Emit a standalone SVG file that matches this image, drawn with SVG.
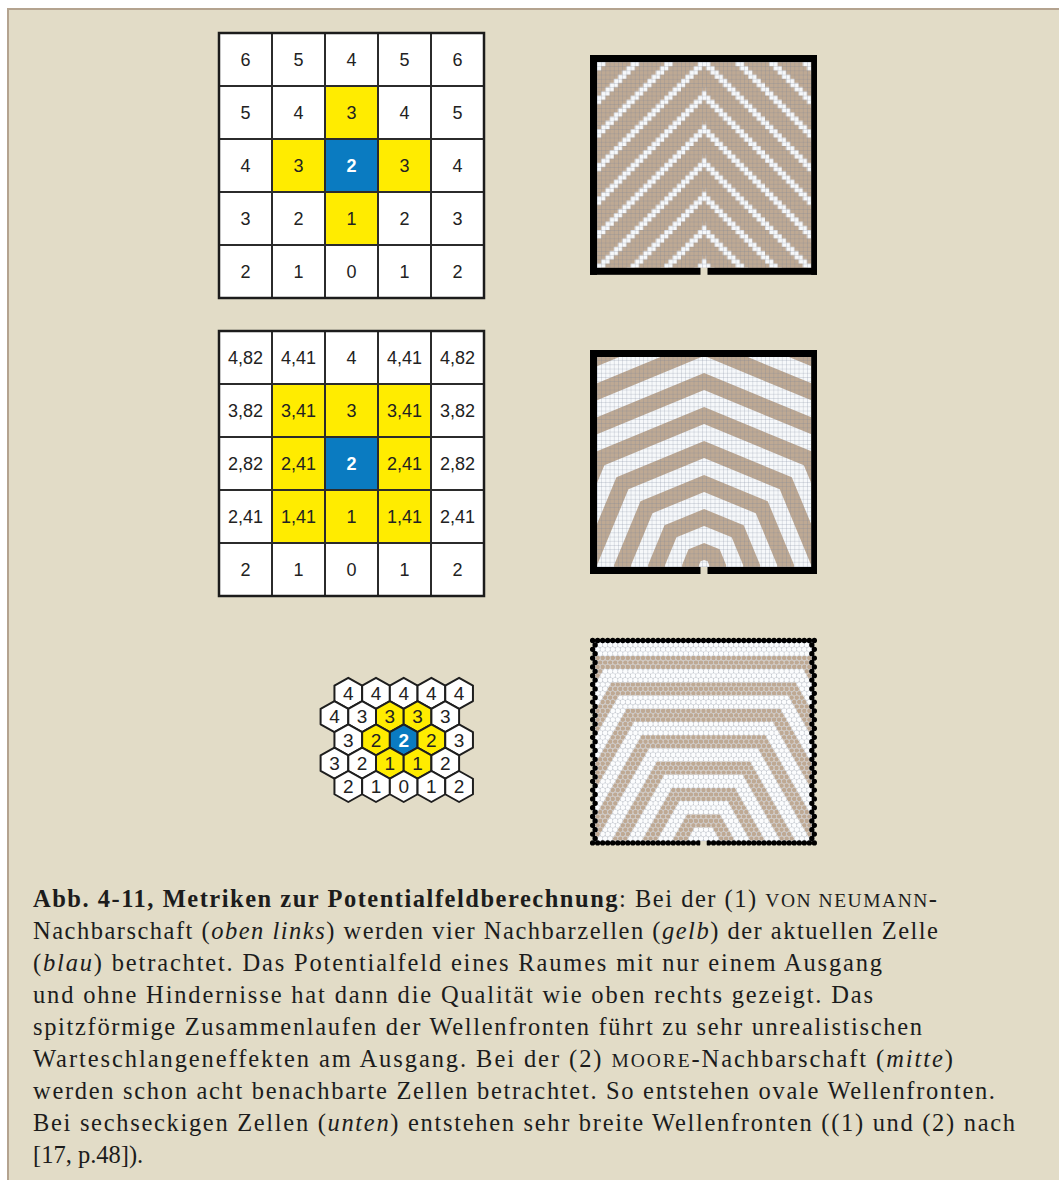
<svg xmlns="http://www.w3.org/2000/svg" xmlns:xlink="http://www.w3.org/1999/xlink" width="1059" height="1180" viewBox="0 0 1059 1180">
<style>
.ln{stroke:#2b2b2b;stroke-width:2;fill:none}
.bd{stroke:#1c1c1c;stroke-width:2.5;fill:none}
.num{font-family:"Liberation Sans",Arial,sans-serif;font-size:18px;fill:#222;text-anchor:middle}
.bnum{font-weight:bold;fill:#fff}
.hnum{font-size:19px}
.hx{stroke:#1e1e1e;stroke-width:2;stroke-linejoin:round}
.hw{fill:#fff}.hy{fill:#ffec00}.hb{fill:#0a7bc1}
.cw{fill:#fff}.cy{fill:#ffec00}.cb{fill:#0a7bc1}
.tan{fill:#bea994}
.wal{fill:#000}
.cap{font-family:"Liberation Serif","Times New Roman",serif;font-size:24.5px;fill:#1c1c1c}
.b{font-weight:bold}
.i{font-style:italic}
.sc{font-size:19.5px}
.dotw{fill:none;stroke:#fbfcfd;stroke-width:4.7;stroke-linecap:round;stroke-dasharray:0 5.04}
.dott{fill:none;stroke:#bea994;stroke-width:4.7;stroke-linecap:round;stroke-dasharray:0 5.04}
.wallh{fill:none;stroke:#000;stroke-width:5.3;stroke-linecap:round;stroke-dasharray:0 5.04}
.wallv{fill:none;stroke:#000;stroke-width:5.3;stroke-linecap:round;stroke-dasharray:0 8.8}
</style>
<defs>
<polygon id="hx" points="0,-15.5 13.85,-7.75 13.85,7.75 0,15.5 -13.85,7.75 -13.85,-7.75"/>
<pattern id="vnR" patternUnits="userSpaceOnUse" x="597" y="62" width="33.6" height="33.6">
<path fill="#f6f8fa" d="M4.2 0h8.4v4.2h-8.4z M8.4 4.2h8.4v4.2h-8.4z M12.6 8.4h8.4v4.2h-8.4z M16.8 12.6h8.4v4.2h-8.4z M21 16.8h8.4v4.2h-8.4z M25.2 21h8.4v4.2h-8.4z M29.4 25.2h4.2v4.2h-4.2z M0 25.2h4.2v4.2h-4.2z M0 29.4h8.4v4.2h-8.4z"/>
</pattern>
<pattern id="vnL" patternUnits="userSpaceOnUse" x="597" y="62" width="33.6" height="33.6">
<path fill="#f6f8fa" d="M0 0h8.4v4.2h-8.4z M29.4 4.2h4.2v4.2h-4.2z M0 4.2h4.2v4.2h-4.2z M25.2 8.4h8.4v4.2h-8.4z M21 12.6h8.4v4.2h-8.4z M16.8 16.8h8.4v4.2h-8.4z M12.6 21h8.4v4.2h-8.4z M8.4 25.2h8.4v4.2h-8.4z M4.2 29.4h8.4v4.2h-8.4z"/>
</pattern>
<pattern id="sqgrid" patternUnits="userSpaceOnUse" x="597" y="62" width="4.2" height="4.2">
<path d="M0 0.25H4.2M0.25 0V4.2" stroke="#6f7b8f" stroke-opacity="0.5" stroke-width="0.5" fill="none"/>
</pattern>
<clipPath id="mooreRoom"><rect x="597" y="357" width="214.2" height="210"/></clipPath>
<clipPath id="hexTan">
<path clip-rule="evenodd" d="M76.86 204.6L94.5 173.8L127.26 173.8L144.9 204.6Z M91.98 204.6L102.06 187L119.7 187L129.78 204.6Z"/>
<path clip-rule="evenodd" d="M46.62 204.6L79.38 147.4L142.38 147.4L175.14 204.6Z M61.74 204.6L86.94 160.6L134.82 160.6L160.02 204.6Z"/>
<path clip-rule="evenodd" d="M16.38 204.6L64.26 121L157.5 121L205.38 204.6Z M31.5 204.6L71.82 134.2L149.94 134.2L190.26 204.6Z"/>
<path clip-rule="evenodd" d="M-13.86 204.6L49.14 94.6L172.62 94.6L235.62 204.6Z M1.26 204.6L56.7 107.8L165.06 107.8L220.5 204.6Z"/>
<path clip-rule="evenodd" d="M-44.1 204.6L34.02 68.2L187.74 68.2L265.86 204.6Z M-28.98 204.6L41.58 81.4L180.18 81.4L250.74 204.6Z"/>
<path clip-rule="evenodd" d="M-74.34 204.6L18.9 41.8L202.86 41.8L296.1 204.6Z M-59.22 204.6L26.46 55L195.3 55L280.98 204.6Z"/>
<path clip-rule="evenodd" d="M-104.58 204.6L3.78 15.4L217.98 15.4L326.34 204.6Z M-89.46 204.6L11.34 28.6L210.42 28.6L311.22 204.6Z"/>
</clipPath>
<path id="hrows" d="M7.56 4.4h206.69
m-209.21 4.4h211.73m-209.21 4.4h206.69 m-209.21 4.4h211.73m-209.21 4.4h206.69
m-209.21 4.4h211.73m-209.21 4.4h206.69 m-209.21 4.4h211.73m-209.21 4.4h206.69
m-209.21 4.4h211.73m-209.21 4.4h206.69 m-209.21 4.4h211.73m-209.21 4.4h206.69
m-209.21 4.4h211.73m-209.21 4.4h206.69 m-209.21 4.4h211.73m-209.21 4.4h206.69
m-209.21 4.4h211.73m-209.21 4.4h206.69 m-209.21 4.4h211.73m-209.21 4.4h206.69
m-209.21 4.4h211.73m-209.21 4.4h206.69 m-209.21 4.4h211.73m-209.21 4.4h206.69
m-209.21 4.4h211.73m-209.21 4.4h206.69 m-209.21 4.4h211.73m-209.21 4.4h206.69
m-209.21 4.4h211.73m-209.21 4.4h206.69 m-209.21 4.4h211.73m-209.21 4.4h206.69
m-209.21 4.4h211.73m-209.21 4.4h206.69 m-209.21 4.4h211.73m-209.21 4.4h206.69
m-209.21 4.4h211.73m-209.21 4.4h206.69 m-209.21 4.4h211.73m-209.21 4.4h206.69
m-209.21 4.4h211.73m-209.21 4.4h206.69 m-209.21 4.4h211.73m-209.21 4.4h206.69"/>
</defs>

<rect width="1059" height="1180" fill="#fff"/>
<rect x="8" y="9" width="1060" height="1180" fill="#e2dcc7" stroke="#b4a38f" stroke-width="2"/>

<g id="grid-vonneumann">
<rect x="219" y="33" width="265" height="265" class="cw"/>
<rect x="325" y="86" width="53" height="53" class="cy"/>
<rect x="272" y="139" width="53" height="53" class="cy"/>
<rect x="378" y="139" width="53" height="53" class="cy"/>
<rect x="325" y="192" width="53" height="53" class="cy"/>
<rect x="325" y="139" width="53" height="53" class="cb"/>
<path class="ln" d="M272 33V298M325 33V298M378 33V298M431 33V298M219 86H484M219 139H484M219 192H484M219 245H484"/>
<rect x="219" y="33" width="265" height="265" class="bd"/>
<g class="num">
<text x="245.5" y="65.5">6</text><text x="298.5" y="65.5">5</text><text x="351.5" y="65.5">4</text><text x="404.5" y="65.5">5</text><text x="457.5" y="65.5">6</text>
<text x="245.5" y="118.5">5</text><text x="298.5" y="118.5">4</text><text x="351.5" y="118.5">3</text><text x="404.5" y="118.5">4</text><text x="457.5" y="118.5">5</text>
<text x="245.5" y="171.5">4</text><text x="298.5" y="171.5">3</text><text x="351.5" y="171.5" class="bnum">2</text><text x="404.5" y="171.5">3</text><text x="457.5" y="171.5">4</text>
<text x="245.5" y="224.5">3</text><text x="298.5" y="224.5">2</text><text x="351.5" y="224.5">1</text><text x="404.5" y="224.5">2</text><text x="457.5" y="224.5">3</text>
<text x="245.5" y="277.5">2</text><text x="298.5" y="277.5">1</text><text x="351.5" y="277.5">0</text><text x="404.5" y="277.5">1</text><text x="457.5" y="277.5">2</text>
</g>
</g>

<g id="grid-moore">
<rect x="219" y="331" width="265" height="265" class="cw"/>
<rect x="272" y="384" width="159" height="159" class="cy"/>
<rect x="325" y="437" width="53" height="53" class="cb"/>
<path class="ln" d="M272 331V596M325 331V596M378 331V596M431 331V596M219 384H484M219 437H484M219 490H484M219 543H484"/>
<rect x="219" y="331" width="265" height="265" class="bd"/>
<g class="num">
<text x="245.5" y="363.5">4,82</text><text x="298.5" y="363.5">4,41</text><text x="351.5" y="363.5">4</text><text x="404.5" y="363.5">4,41</text><text x="457.5" y="363.5">4,82</text>
<text x="245.5" y="416.5">3,82</text><text x="298.5" y="416.5">3,41</text><text x="351.5" y="416.5">3</text><text x="404.5" y="416.5">3,41</text><text x="457.5" y="416.5">3,82</text>
<text x="245.5" y="469.5">2,82</text><text x="298.5" y="469.5">2,41</text><text x="351.5" y="469.5" class="bnum">2</text><text x="404.5" y="469.5">2,41</text><text x="457.5" y="469.5">2,82</text>
<text x="245.5" y="522.5">2,41</text><text x="298.5" y="522.5">1,41</text><text x="351.5" y="522.5">1</text><text x="404.5" y="522.5">1,41</text><text x="457.5" y="522.5">2,41</text>
<text x="245.5" y="575.5">2</text><text x="298.5" y="575.5">1</text><text x="351.5" y="575.5">0</text><text x="404.5" y="575.5">1</text><text x="457.5" y="575.5">2</text>
</g>
</g>

<g id="grid-hex">
<use xlink:href="#hx" href="#hx" x="348.3" y="693.3" class="hx hw"/><use xlink:href="#hx" href="#hx" x="376" y="693.3" class="hx hw"/><use xlink:href="#hx" href="#hx" x="403.7" y="693.3" class="hx hw"/><use xlink:href="#hx" href="#hx" x="431.4" y="693.3" class="hx hw"/><use xlink:href="#hx" href="#hx" x="459.1" y="693.3" class="hx hw"/>
<use xlink:href="#hx" href="#hx" x="334.45" y="716.6" class="hx hw"/><use xlink:href="#hx" href="#hx" x="362.15" y="716.6" class="hx hw"/><use xlink:href="#hx" href="#hx" x="389.85" y="716.6" class="hx hy"/><use xlink:href="#hx" href="#hx" x="417.55" y="716.6" class="hx hy"/><use xlink:href="#hx" href="#hx" x="445.25" y="716.6" class="hx hw"/>
<use xlink:href="#hx" href="#hx" x="348.3" y="739.9" class="hx hw"/><use xlink:href="#hx" href="#hx" x="376" y="739.9" class="hx hy"/><use xlink:href="#hx" href="#hx" x="403.7" y="739.9" class="hx hb"/><use xlink:href="#hx" href="#hx" x="431.4" y="739.9" class="hx hy"/><use xlink:href="#hx" href="#hx" x="459.1" y="739.9" class="hx hw"/>
<use xlink:href="#hx" href="#hx" x="334.45" y="763.2" class="hx hw"/><use xlink:href="#hx" href="#hx" x="362.15" y="763.2" class="hx hw"/><use xlink:href="#hx" href="#hx" x="389.85" y="763.2" class="hx hy"/><use xlink:href="#hx" href="#hx" x="417.55" y="763.2" class="hx hy"/><use xlink:href="#hx" href="#hx" x="445.25" y="763.2" class="hx hw"/>
<use xlink:href="#hx" href="#hx" x="348.3" y="786.5" class="hx hw"/><use xlink:href="#hx" href="#hx" x="376" y="786.5" class="hx hw"/><use xlink:href="#hx" href="#hx" x="403.7" y="786.5" class="hx hw"/><use xlink:href="#hx" href="#hx" x="431.4" y="786.5" class="hx hw"/><use xlink:href="#hx" href="#hx" x="459.1" y="786.5" class="hx hw"/>
<g class="num hnum">
<text x="348.3" y="700.1">4</text><text x="376" y="700.1">4</text><text x="403.7" y="700.1">4</text><text x="431.4" y="700.1">4</text><text x="459.1" y="700.1">4</text>
<text x="334.45" y="723.4">4</text><text x="362.15" y="723.4">3</text><text x="389.85" y="723.4">3</text><text x="417.55" y="723.4">3</text><text x="445.25" y="723.4">3</text>
<text x="348.3" y="746.7">3</text><text x="376" y="746.7">2</text><text x="403.7" y="746.7" class="bnum">2</text><text x="431.4" y="746.7">2</text><text x="459.1" y="746.7">3</text>
<text x="334.45" y="770">3</text><text x="362.15" y="770">2</text><text x="389.85" y="770">1</text><text x="417.55" y="770">1</text><text x="445.25" y="770">2</text>
<text x="348.3" y="793.3">2</text><text x="376" y="793.3">1</text><text x="403.7" y="793.3">0</text><text x="431.4" y="793.3">1</text><text x="459.1" y="793.3">2</text>
</g>
</g>

<g id="field-vonneumann">
<rect x="597" y="62" width="214.2" height="205.8" class="tan"/>
<rect x="597" y="62" width="109.2" height="205.8" fill="url(#vnL)"/>
<rect x="702" y="62" width="109.2" height="205.8" fill="url(#vnR)"/>
<rect x="597" y="62" width="214.2" height="205.8" fill="url(#sqgrid)"/>
<rect x="590" y="55" width="227" height="7" class="wal"/>
<rect x="590" y="55" width="7" height="219.8" class="wal"/>
<rect x="811.2" y="55" width="5.8" height="219.8" class="wal"/>
<rect x="590" y="267.8" width="110.5" height="7" class="wal"/>
<rect x="707.5" y="267.8" width="109.5" height="7" class="wal"/>
</g>

<g id="field-moore">
<rect x="597" y="357" width="214.2" height="210" fill="#f6f8fa"/>
<g clip-path="url(#mooreRoom)">
<g transform="translate(704.1,564.9)" class="tan" fill-rule="evenodd">
<path d="M22 4L22 0L15.56 -15.56L0 -22L-15.56 -15.56L-22 0L-22 4Z M5 4L5 0L3.54 -3.54L0 -5L-3.54 -3.54L-5 0L-5 4Z"/>
<path d="M56 4L56 0L39.6 -39.6L0 -56L-39.6 -39.6L-56 0L-56 4Z M39 4L39 0L27.58 -27.58L0 -39L-27.58 -27.58L-39 0L-39 4Z"/>
<path d="M90 4L90 0L63.64 -63.64L0 -90L-63.64 -63.64L-90 0L-90 4Z M73 4L73 0L51.62 -51.62L0 -73L-51.62 -51.62L-73 0L-73 4Z"/>
<path d="M124 4L124 0L87.68 -87.68L0 -124L-87.68 -87.68L-124 0L-124 4Z M107 4L107 0L75.66 -75.66L0 -107L-75.66 -75.66L-107 0L-107 4Z"/>
<path d="M158 4L158 0L111.72 -111.72L0 -158L-111.72 -111.72L-158 0L-158 4Z M141 4L141 0L99.7 -99.7L0 -141L-99.7 -99.7L-141 0L-141 4Z"/>
<path d="M192 4L192 0L135.76 -135.76L0 -192L-135.76 -135.76L-192 0L-192 4Z M175 4L175 0L123.74 -123.74L0 -175L-123.74 -123.74L-175 0L-175 4Z"/>
<path d="M226 4L226 0L159.8 -159.8L0 -226L-159.8 -159.8L-226 0L-226 4Z M209 4L209 0L147.78 -147.78L0 -209L-147.78 -147.78L-209 0L-209 4Z"/>
<path d="M260 4L260 0L183.85 -183.85L0 -260L-183.85 -183.85L-260 0L-260 4Z M243 4L243 0L171.82 -171.82L0 -243L-171.82 -171.82L-243 0L-243 4Z"/>
</g>
</g>
<rect x="597" y="357" width="214.2" height="210" fill="url(#sqgrid)"/>
<rect x="590" y="350" width="227" height="7" class="wal"/>
<rect x="590" y="350" width="7" height="224" class="wal"/>
<rect x="811.2" y="350" width="5.8" height="224" class="wal"/>
<rect x="590" y="567" width="110.5" height="7" class="wal"/>
<rect x="707.5" y="567" width="109.5" height="7" class="wal"/>
</g>

<g id="field-hex" transform="translate(592.6,640.5)">
<rect x="0" y="0" width="221.76" height="202.4" fill="#c6cad1"/>
<use xlink:href="#hrows" href="#hrows" class="dotw"/>
<use xlink:href="#hrows" href="#hrows" class="dott" clip-path="url(#hexTan)"/>
<path class="wallh" d="M0 0H221.8M0 202.4H105.9M115.92 202.4H221.8"/>
<path class="wallv" d="M0 8.8V193.65M221.76 8.8V193.65M2.52 4.4V198.05M219.24 4.4V198.05"/>
<rect x="107.7" y="200.6" width="6.4" height="6" fill="#e2dcc7"/>
</g>

<g id="connectors"></g>

<g id="caption">
<text class="cap" x="33" y="907" textLength="904" lengthAdjust="spacing"><tspan class="b">Abb. 4-11, Metriken zur Potentialfeldberechnung</tspan>: Bei der (1) <tspan class="sc">VON NEUMANN</tspan>-</text>
<text class="cap" x="33" y="939" textLength="905" lengthAdjust="spacing">Nachbarschaft (<tspan class="i">oben links</tspan>) werden vier Nachbarzellen (<tspan class="i">gelb</tspan>) der aktuellen Zelle</text>
<text class="cap" x="33" y="971" textLength="849" lengthAdjust="spacing">(<tspan class="i">blau</tspan>) betrachtet. Das Potentialfeld eines Raumes mit nur einem Ausgang</text>
<text class="cap" x="33" y="1003" textLength="840" lengthAdjust="spacing">und ohne Hindernisse hat dann die Qualität wie oben rechts gezeigt. Das</text>
<text class="cap" x="33" y="1035" textLength="889" lengthAdjust="spacing">spitzförmige Zusammenlaufen der Wellenfronten führt zu sehr unrealistischen</text>
<text class="cap" x="33" y="1067" textLength="920" lengthAdjust="spacing">Warteschlangeneffekten am Ausgang. Bei der (2) <tspan class="sc">MOORE</tspan>-Nachbarschaft (<tspan class="i">mitte</tspan>)</text>
<text class="cap" x="33" y="1099" textLength="962" lengthAdjust="spacing">werden schon acht benachbarte Zellen betrachtet. So entstehen ovale Wellenfronten.</text>
<text class="cap" x="33" y="1131" textLength="982" lengthAdjust="spacing">Bei sechseckigen Zellen (<tspan class="i">unten</tspan>) entstehen sehr breite Wellenfronten ((1) und (2) nach</text>
<text class="cap" x="33" y="1163">[17, p.48]).</text>
</g>
</svg>
